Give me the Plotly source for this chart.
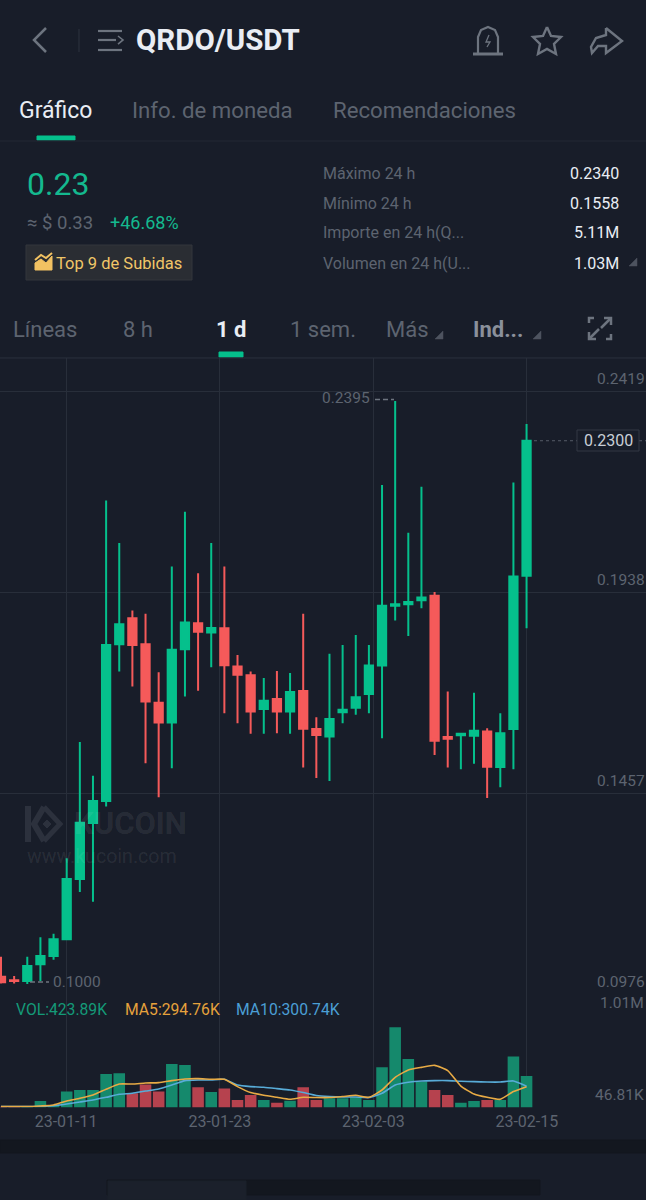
import plotly.graph_objects as go
import pandas as pd

W, H = 646, 1200

# daily candles, 23-01-06 to 23-02-15
fechas = pd.date_range("2023-01-06", "2023-02-15")
aperturas = [.1017, .1009, .1007, .1047, .1067, .1107, .1251, .1385, .1438, .1813, .1875,
             .1813, .1673, .1626, .1801, .1863, .1841, .1851, .1760, .1739, .1658, .1682,
             .1652, .1701, .1610, .1592, .1650, .1661, .1694, .1762, .1905, .1909, .1918,
             .1929, .1591, .1595, .1594, .1604, .1519, .1610, .1977]
maximos = [.1065, .1019, .1065, .1112, .1120, .1301, .1579, .1498, .2157, .2055, .1894,
           .1886, .1746, .1999, .2130, .1983, .2055, .1999, .1787, .1748, .1732, .1749,
           .1744, .1886, .1638, .1790, .1811, .1835, .1811, .2194, .2395, .2080, .2190,
           .1938, .1700, .1600, .1697, .1612, .1648, .2200, .2340]
minimos = [.1001, .1001, .1000, .1007, .1058, .1107, .1220, .1197, .1425, .1748, .1712,
           .1528, .1447, .1516, .1688, .1702, .1758, .1648, .1624, .1599, .1599, .1600,
           .1599, .1518, .1493, .1486, .1624, .1644, .1648, .1588, .1870, .1833, .1899,
           .1548, .1518, .1514, .1527, .1445, .1471, .1514, .1851]
cierres = [.1004, .1007, .1043, .1067, .1107, .1251, .1386, .1438, .1811, .1861, .1811,
           .1676, .1626, .1800, .1865, .1843, .1852, .1763, .1740, .1652, .1678, .1652,
           .1699, .1611, .1596, .1634, .1656, .1686, .1762, .1905, .1909, .1914, .1925,
           .1582, .1587, .1599, .1606, .1520, .1600, .1975, .2300]

# volume in thousands
volumen = [53, 53, 59, 123, 71, 236, 255, 255, 448, 456, 215, 320, 236, 568, 556, 288, 231,
           272, 135, 195, 135, 103, 127, 288, 135, 155, 155, 167, 135, 528, 1010, 628, 356,
           255, 195, 103, 123, 135, 135, 657, 423.89]
ma5 = [55, 55, 55, 63, 75, 123, 155, 195, 264, 327, 327, 339, 344, 368, 388, 392, 384, 384,
       296, 224, 191, 167, 143, 167, 164, 164, 176, 191, 167, 255, 408, 496, 528, 552, 489,
       303, 207, 167, 143, 236, 294.76]
ma10 = [55, 55, 55, 60, 67, 87, 111, 135, 167, 203, 215, 243, 267, 315, 368, 376, 376, 384,
        315, 296, 288, 272, 255, 224, 188, 176, 171, 171, 164, 215, 315, 348, 364, 368, 368,
        360, 356, 351, 351, 364, 300.74]

precios_eje = [0.2419, 0.1938, 0.1457, 0.0976]
etiquetas_fecha = ["23-01-11", "23-01-23", "23-02-03", "23-02-15"]
rejilla_fecha = ["2023-01-10 22:48", "2023-01-22 15:50", "2023-02-03 08:10", "2023-02-15 00:29"]

VERDE = "#05c08c"
ROJO = "#f55a5a"
FONDO = "#181d29"
REJILLA = "#282e3a"
GRIS = "#5d6470"
BLANCO = "#e9edf4"
FUENTE = "Roboto"

anotaciones = []
formas = []


def px(x):
    return x / W


def py(y):
    return 1 - y / H


def texto(x, y, s, size, color=GRIS, anchor="left", bold=False, familia=FUENTE):
    if bold:
        s = "<b>" + s + "</b>"
    anotaciones.append(dict(x=px(x), y=py(y), xref="paper", yref="paper", text=s, showarrow=False,
                            xanchor=anchor, yanchor="middle", borderpad=0,
                            font=dict(size=size, color=color, family=familia)))


def trazo(puntos, color=GRIS, ancho=2.0, relleno=None, capa="above"):
    d = "M " + " L ".join(f"{px(a):.5f} {py(b):.5f}" for a, b in puntos)
    if relleno:
        d += " Z"
    formas.append(dict(type="path", path=d, xref="paper", yref="paper", layer=capa,
                       line=dict(color=color, width=ancho), fillcolor=relleno))


def caja(x0, y0, x1, y1, color, capa="below", borde=None):
    formas.append(dict(type="rect", x0=px(x0), x1=px(x1), y0=py(y0), y1=py(y1), xref="paper",
                       yref="paper", layer=capa, fillcolor=color,
                       line=dict(color=borde or color, width=1)))


def triangulo(x, y):
    trazo([(x, y + 8), (x + 8, y + 8), (x + 8, y)], "#4d535f", 0.5, "#4d535f")


# header
trazo([(46, 28), (34, 40), (46, 52)], "#6d747f", 2.5)
trazo([(79, 29), (79, 52)], "#262c38", 1.5)
trazo([(98, 31), (122, 31)], "#6d747f", 2.2)
trazo([(98, 40), (116, 40)], "#6d747f", 2.2)
trazo([(98, 50), (122, 50)], "#6d747f", 2.2)
trazo([(118, 36), (123, 40), (118, 44)], "#6d747f", 1.6)
texto(135, 40, "QRDO/USDT", 29.5, BLANCO, bold=True)

trazo([(478, 53), (478, 37), (481, 30), (488, 27), (495, 30), (498, 37), (498, 53)], "#6d747f", 2.2)
trazo([(473, 54), (503, 54)], "#6d747f", 3)
trazo([(489, 35), (486, 42), (490, 42), (487, 47)], "#6d747f", 1.3)
trazo([(547, 27), (551, 36), (561, 37), (554, 44), (556, 54), (547, 49), (538, 54), (540, 44),
       (533, 37), (543, 36), (547, 27)], "#6d747f", 2.4)
trazo([(606, 28), (622, 41), (606, 53), (606, 46), (598, 46), (592, 53), (591, 47), (596, 38),
       (606, 35), (606, 28)], "#6d747f", 2.4)

texto(18, 110, "Gráfico", 23, BLANCO)
texto(131, 110, "Info. de moneda", 22.2, GRIS)
texto(332, 110, "Recomendaciones", 22.2, GRIS)
caja(37, 136, 75, 140, VERDE, "above")
trazo([(0, 141), (646, 141)], "#222834", 1)

# price summary
texto(26, 184, "0.23", 32, "#14b98f")
texto(26, 223, "≈ $ 0.33", 18.5, GRIS)
texto(109, 223, "+46.68%", 18, "#14b98f")
caja(26, 245, 192, 280, "#2a2d33", "below", "#33363c")
trazo([(35, 270), (35, 263), (41, 259), (46, 263), (52, 256), (52, 270)], "#f2c262", 1, "#f2c262")
trazo([(35, 260), (41, 255), (46, 258), (52, 253)], "#f2c262", 2)
texto(55, 263, "Top 9 de Subidas", 16.5, "#f0c668")

texto(322, 173, "Máximo 24 h", 16)
texto(322, 203, "Mínimo 24 h", 16)
texto(322, 233, "Importe en 24 h(Q...", 16)
texto(322, 263, "Volumen en 24 h(U...", 16)
texto(620, 173, "0.2340", 16, BLANCO, "right")
texto(620, 203, "0.1558", 16, BLANCO, "right")
texto(620, 233, "5.11M", 16, BLANCO, "right")
texto(620, 263, "1.03M", 16, BLANCO, "right")
triangulo(629, 258)

# period tabs
texto(12, 329, "Líneas", 22, GRIS)
texto(122, 329, "8 h", 22, GRIS)
texto(215, 329, "1 d", 22, BLANCO, bold=True)
texto(289, 329, "1 sem.", 22, GRIS)
texto(385, 329, "Más", 22, GRIS)
triangulo(435, 331)
texto(472, 329, "Ind...", 22, "#8a909b", bold=True)
triangulo(533, 331)
caja(219, 352, 243, 357, VERDE, "above")
for pts in ([(589, 323), (589, 318), (594, 318)], [(611, 334), (611, 339), (606, 339)]):
    trazo(pts, "#6d747f", 2.5)
trazo([(601, 328), (611, 318)], "#6d747f", 2.5)
trazo([(604, 318), (611, 318), (611, 325)], "#6d747f", 2.5)
trazo([(599, 329), (589, 339)], "#6d747f", 2.5)
trazo([(589, 332), (589, 339), (596, 339)], "#6d747f", 2.5)
trazo([(0, 358), (646, 358)], "#2b313d", 1)

# watermark, under the candles
marca = "#2c313d"
trazo([(28, 806), (28, 842)], marca, 6, capa="below")
trazo([(44, 807), (34, 824), (44, 841)], marca, 6, capa="below")
trazo([(44, 807), (60, 824), (44, 841)], marca, 5, capa="below")
trazo([(47, 820), (51, 824), (47, 828), (43, 824)], marca, 1, marca, capa="below")
anotaciones.append(dict(x=px(72), y=py(823), xref="paper", yref="paper", showarrow=False,
                        text="<b>KUCOIN</b>", xanchor="left", yanchor="middle",
                        font=dict(size=31, color="rgba(255,255,255,0.085)", family=FUENTE)))
anotaciones.append(dict(x=px(25), y=py(856), xref="paper", yref="paper", showarrow=False,
                        text="www.kucoin.com", xanchor="left", yanchor="middle",
                        font=dict(size=19.6, color="rgba(255,255,255,0.085)", family=FUENTE)))

# price scale labels sit just above their grid lines
for p in precios_eje:
    anotaciones.append(dict(x=1, y=p, xref="paper", yref="y", text=f"{p:.4f}", showarrow=False,
                            xanchor="right", yanchor="middle", yshift=12, xshift=1,
                            font=dict(size=15.5, color=GRIS, family=FUENTE)))
texto(321, 398, "0.2395", 15.5)
texto(52, 982, "0.1000", 15.5)
formas.append(dict(type="line", x0=px(375), x1=px(394), y0=py(399.5), y1=py(399.5), xref="paper",
                   yref="paper", line=dict(color="#6d747f", width=1.5, dash="5px,3px")))
formas.append(dict(type="line", x0=px(30), x1=px(49), y0=py(982), y1=py(982), xref="paper",
                   yref="paper", line=dict(color="#6d747f", width=1.5, dash="5px,3px")))

# last price tag
for x0, x1 in ((534, 577), (639, 646)):
    formas.append(dict(type="line", x0=px(x0), x1=px(x1), y0=cierres[-1], y1=cierres[-1], xref="paper",
                       yref="y", line=dict(color="#565c68", width=1, dash="dot")))
formas.append(dict(type="rect", x0=px(577), x1=px(639), y0=py(430), y1=py(451), xref="paper",
                   yref="paper", line=dict(color="#333945", width=1), fillcolor=FONDO))
texto(608, 440, f"{cierres[-1]:.4f}", 16, "#c9ced6", "center")

# volume pane labels
texto(15, 1009, "VOL:423.89K", 15.7, "#149a78")
texto(124, 1009, "MA5:294.76K", 15.7, "#e6a23c")
texto(235, 1009, "MA10:300.74K", 15.7, "#4b9fd5")
texto(645, 1003, "1.01M", 15.5, GRIS, "right")
texto(645, 1095, "46.81K", 15.5, GRIS, "right")

# bottom of the screen
caja(0, 1140, 646, 1153, "#13171f")
caja(107, 1180, 540, 1195, "#13171f")
caja(108, 1181, 246, 1200, "#1b202b")

colores_vol = ["#15896c" if c >= o else "#b6424e" for o, c in zip(aperturas, cierres)]

fig = go.Figure()
fig.add_trace(go.Candlestick(
    x=fechas, open=aperturas, high=maximos, low=minimos, close=cierres,
    xaxis="x", yaxis="y", whiskerwidth=0, hoverinfo="skip",
    increasing=dict(line=dict(color=VERDE, width=2), fillcolor=VERDE),
    decreasing=dict(line=dict(color=ROJO, width=2), fillcolor=ROJO),
))
fig.add_trace(go.Bar(x=fechas, y=volumen, marker=dict(color=colores_vol, line=dict(width=0)),
                     xaxis="x2", yaxis="y2", hoverinfo="skip"))
fig.add_trace(go.Scatter(x=fechas, y=ma10, mode="lines", xaxis="x2", yaxis="y2", hoverinfo="skip",
                         line=dict(color="#58acd8", width=1.6, shape="spline", smoothing=0.5)))
fig.add_trace(go.Scatter(x=fechas, y=ma5, mode="lines", xaxis="x2", yaxis="y2", hoverinfo="skip",
                         line=dict(color="#e8ab45", width=1.6, shape="spline", smoothing=0.5)))

rango_x = ["2023-01-05 22:10", "2023-02-24 02:10"]
ejes_x = dict(range=rango_x, type="date", tickmode="array", tickvals=rejilla_fecha,
              showgrid=True, gridcolor=REJILLA, gridwidth=1, zeroline=False, showline=False,
              ticks="", fixedrange=True)

fig.update_layout(
    width=W, height=H, margin=dict(l=0, r=0, t=0, b=0), autosize=False,
    paper_bgcolor=FONDO, plot_bgcolor=FONDO, showlegend=False,
    font=dict(family=FUENTE, color=GRIS), boxgap=0.1, bargap=0.12,
    xaxis=dict(ejes_x, anchor="y", domain=[0, 1], showticklabels=False,
               rangeslider=dict(visible=False)),
    yaxis=dict(domain=[py(994), py(358)], range=[0.0976, 0.2498], tickmode="array",
               tickvals=precios_eje, showticklabels=False, showgrid=True, gridcolor=REJILLA,
               zeroline=False, fixedrange=True),
    xaxis2=dict(ejes_x, anchor="y2", domain=[0, 1], showticklabels=True, ticktext=etiquetas_fecha,
                tickfont=dict(size=16, color=GRIS, family=FUENTE), ticklabelstandoff=3),
    yaxis2=dict(domain=[py(1107.3), py(994)], range=[46.81, 1411], tickmode="array",
                tickvals=[46.81, 1411], showticklabels=False, showgrid=True, gridcolor=REJILLA,
                zeroline=False, fixedrange=True),
    annotations=anotaciones, shapes=formas,
)

fig.write_html("out.html", config={"displayModeBar": False},
               post_script="document.body.style.margin='0';document.body.style.background='#181d29';")
